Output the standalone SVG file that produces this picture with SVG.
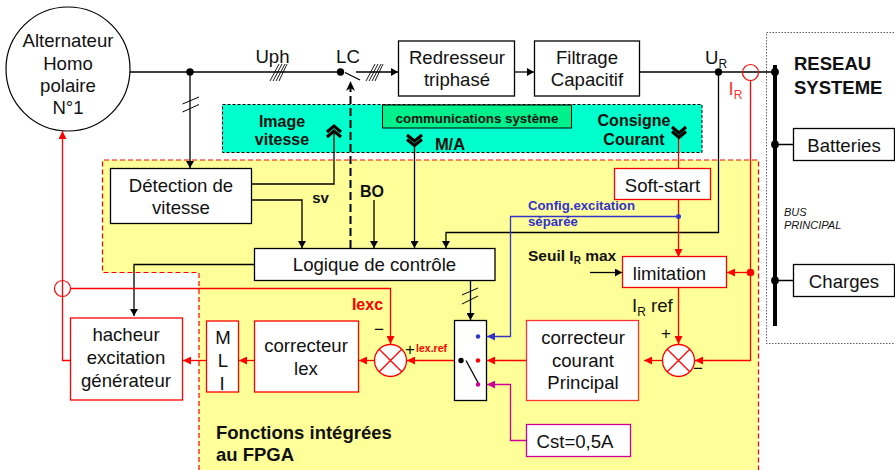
<svg xmlns="http://www.w3.org/2000/svg" width="895" height="470" viewBox="0 0 895 470">
<style>
text{font-family:"Liberation Sans",Arial,sans-serif;fill:#111;text-anchor:middle}
.t{font-size:18.6px}
.b{font-weight:bold}
.s{text-anchor:start}
.n{fill:#fff;stroke:#000;stroke-width:1.3}
.r{fill:#fff;stroke:#f00;stroke-width:1.3}
.c{fill:none;stroke:#000;stroke-width:1.3}
.th{fill:none;stroke:#000;stroke-width:0.9}
.cr{fill:none;stroke:#f00;stroke-width:1.3}
.cb{fill:none;stroke:#3333cc;stroke-width:1.3}
.cm{fill:none;stroke:#cc0099;stroke-width:1.3}
</style>
<defs>
<marker id="a" markerWidth="8" markerHeight="8" refX="7" refY="4" orient="auto" markerUnits="userSpaceOnUse"><path d="M0 0L7 4L0 8z" fill="#000"/></marker>
<marker id="ar" markerWidth="9" markerHeight="8" refX="8" refY="4" orient="auto" markerUnits="userSpaceOnUse"><path d="M0 0L8 4L0 8z" fill="#f00"/></marker>
<marker id="ab" markerWidth="9" markerHeight="8" refX="8" refY="4" orient="auto" markerUnits="userSpaceOnUse"><path d="M0 0L8 4L0 8z" fill="#3333cc"/></marker>
<marker id="am" markerWidth="9" markerHeight="8" refX="8" refY="4" orient="auto" markerUnits="userSpaceOnUse"><path d="M0 0L8 4L0 8z" fill="#cc0099"/></marker>
</defs>

<g id="zones">
<path d="M102.500 160H758.500V470H199V272.500H102.500Z" fill="#ffff99"/>
<path d="M199 470V272.500H102.500V160H758.500V470" fill="none" stroke="#f00" stroke-width="1.2" stroke-dasharray="5 3"/>
<rect x="222.500" y="104.500" width="479.500" height="48" fill="#00ffcc" stroke="#000" stroke-width="1" stroke-dasharray="3 2"/>
<rect x="766.500" y="32.500" width="130" height="311" fill="#fff" stroke="#333" stroke-width="0.8" stroke-dasharray="1.500 1.500"/>
</g>

<g id="connectors">
<path class="c" d="M130 72H338"/>
<path class="c" d="M345 72.500L360 80"/>
<path class="c" d="M356 72H398" marker-end="url(#a)"/>
<path class="c" d="M515 72H534" marker-end="url(#a)"/>
<path class="c" d="M639 72H775"/>
<path class="c" d="M190 72V168" marker-end="url(#a)"/>
<path class="c" d="M182.500 104L199 97M182.500 112L199 104.500" style="stroke-width:1"/>
<path class="th" d="M270 81L279 64M273 81L282 64M276 81L285 64M279 81L287 64"/>
<path class="th" d="M366 81L375 64M369 81L378 64M372 81L381 64M375 81L383 64"/>
<path d="M350.500 248V88" fill="none" stroke="#000" stroke-width="2" stroke-dasharray="8 4"/>
<path d="M346 91L350.500 81L355 91L350.500 88Z" fill="#000"/>
<path class="c" d="M251 184H334V132"/>
<path class="c" d="M251 200H302V248" marker-end="url(#a)"/>
<path class="c" d="M374 200V248" marker-end="url(#a)"/>
<path class="c" d="M414.500 145V248" marker-end="url(#a)"/>
<path class="c" d="M718.500 72V232.500H446V248" marker-end="url(#a)"/>
<path class="c" d="M254 264.500H134V316" marker-end="url(#a)"/>
<path class="c" d="M470.500 280V320" marker-end="url(#a)"/>
<path class="c" d="M462 295L478 288M462 304L478 296" style="stroke-width:1"/>
<path class="c" d="M590 272.500H622" marker-end="url(#a)"/>
<path class="cr" d="M678.500 137V168"/>
<path class="cr" d="M678.500 199V257" marker-end="url(#ar)"/>
<path class="cr" d="M678.500 287V344" marker-end="url(#ar)"/>
<path class="cr" d="M750.500 80V360.500H695" marker-end="url(#ar)"/>
<path class="cr" d="M750.500 272.500H727" marker-end="url(#ar)"/>
<path class="cr" d="M662 360.500H644" marker-end="url(#ar)"/>
<path class="cr" d="M526.500 360.500H487" marker-end="url(#ar)"/>
<path class="cr" d="M454 360.500H407" marker-end="url(#ar)"/>
<path class="cr" d="M374 360.500H359" marker-end="url(#ar)"/>
<path class="cr" d="M254 360.500H239" marker-end="url(#ar)"/>
<path class="cr" d="M206 360.500H183" marker-end="url(#ar)"/>
<path class="cr" d="M70 360.500H62.500V131" marker-end="url(#ar)"/>
<path class="cr" d="M71 288.500H390.500V344" marker-end="url(#ar)"/>
<path class="cb" d="M678.500 216.500H510.500V336.500H487" marker-end="url(#ab)"/>
<path class="cm" d="M526.500 440.500H510.500V384.500H487" marker-end="url(#am)"/>
<path d="M775 65V326" fill="none" stroke="#000" stroke-width="4"/>
<path class="c" d="M775 144.500H793M775 280.500H793"/>
<path d="M327 132L334 126L341 132M327 137L334 131L341 137" fill="none" stroke="#000" stroke-width="3"/>
<path d="M407 135L414.500 141L422 135M407 139.500L414.500 145.500L422 139.500" fill="none" stroke="#000" stroke-width="3"/>
<path d="M672 127L679 133L686 127M672 131.500L679 137.500L686 131.500" fill="none" stroke="#000" stroke-width="3"/>
<circle cx="190" cy="72" r="3.700"/>
<circle cx="340.500" cy="72" r="3.700"/>
<circle cx="718.500" cy="72" r="3.700"/>
<circle cx="775" cy="72" r="3.900"/>
<circle cx="775" cy="144.500" r="3.900"/>
<circle cx="775" cy="280.500" r="3.900"/>
<circle cx="750.500" cy="272.500" r="3.800" fill="#f00"/>
<circle cx="678.500" cy="216.500" r="2.500" fill="#3333cc"/>
<circle cx="750.500" cy="72.500" r="8" fill="none" stroke="#f00" stroke-width="1.200"/>
<circle cx="62.500" cy="288.500" r="8" fill="none" stroke="#f00" stroke-width="1.200"/>
</g>

<g id="alternateur"><circle cx="68" cy="69" r="62" fill="#fff" stroke="#000" stroke-width="1.200"/>
<text class="t" x="68" y="47">Alternateur</text><text class="t" x="68" y="70">Homo</text><text class="t" x="68" y="92">polaire</text><text class="t" x="68" y="114">N°1</text></g>
<g id="redresseur"><rect class="n" x="398.500" y="41" width="116" height="55"/><text class="t" x="457" y="64">Redresseur</text><text class="t" x="457" y="86">triphasé</text></g>
<g id="filtrage"><rect class="n" x="534.500" y="41" width="105" height="55"/><text class="t" x="587" y="64">Filtrage</text><text class="t" x="587" y="86">Capacitif</text></g>
<g id="communications"><rect x="382.500" y="105" width="189" height="23" fill="#00f08c" stroke="#000" stroke-width="1"/><text x="477" y="123" font-size="13.300" class="b">communications système</text></g>
<g id="image-vitesse"><text class="b" x="282" y="127" font-size="16">Image</text><text class="b" x="282" y="145" font-size="16">vitesse</text></g>
<g id="consigne"><text class="b" x="634" y="126" font-size="16">Consigne</text><text class="b" x="634" y="145" font-size="16">Courant</text></g>
<g id="detection"><rect class="n" x="110.500" y="168.500" width="141" height="55"/><text class="t" x="181" y="192">Détection de</text><text class="t" x="181" y="214">vitesse</text></g>
<g id="softstart"><rect class="r" x="614.500" y="168.500" width="96" height="31"/><text class="t" x="662.500" y="192">Soft-start</text></g>
<g id="logique"><rect class="n" x="254.500" y="248.500" width="240.500" height="32"/><text class="t" x="374.500" y="271">Logique de contrôle</text></g>
<g id="limitation"><rect class="r" x="622.500" y="256.500" width="104" height="31"/><text class="t" x="669.500" y="280">limitation</text></g>
<g id="hacheur"><rect class="r" x="70.500" y="318" width="112" height="82"/><text class="t" x="126" y="341">hacheur</text><text class="t" x="126" y="364">excitation</text><text class="t" x="126" y="387">générateur</text></g>
<g id="mli"><rect class="r" x="206.500" y="321" width="32" height="71"/><text class="t" x="223" y="344">M</text><text class="t" x="223" y="367">L</text><text class="t" x="222" y="390">I</text></g>
<g id="correcteur-lex"><rect class="r" x="254.500" y="321" width="104" height="71"/><text class="t" x="306" y="352">correcteur</text><text class="t" x="306" y="375">lex</text></g>
<g id="sum-lex"><circle cx="390.500" cy="360.500" r="16" fill="#fff" stroke="#f00" stroke-width="1.300"/><path class="cr" d="M379 349L402 372M402 349L379 372"/></g>
<g id="selecteur"><rect class="n" x="454.500" y="320.500" width="32" height="80"/>
<path class="c" d="M466 360.500L479 384.500"/><circle cx="461" cy="360.500" r="2.700"/><circle cx="478" cy="336.500" r="2.200" fill="#3333cc"/><circle cx="478" cy="360.500" r="2.200" fill="#f00"/><circle cx="478" cy="384.500" r="2.200" fill="#cc0099"/></g>
<g id="correcteur-courant"><rect x="526.500" y="320.500" width="112" height="80" fill="#fff" stroke="#f33" stroke-width="1.300"/><text class="t" x="583" y="344">correcteur</text><text class="t" x="583" y="367">courant</text><text class="t" x="583" y="389">Principal</text></g>
<g id="sum-courant"><circle cx="678.500" cy="360.500" r="16" fill="#fff" stroke="#f00" stroke-width="1.300"/><path class="cr" d="M667 349L690 372M690 349L667 372"/></g>
<g id="cst"><rect x="526.500" y="424.500" width="104" height="32" fill="#fff" stroke="#cc0099" stroke-width="1.300"/><text class="t" x="575" y="448">Cst=0,5A</text></g>
<g id="batteries"><rect class="n" x="793.500" y="128.500" width="101" height="32"/><text class="t" x="844" y="152">Batteries</text></g>
<g id="charges"><rect class="n" x="793.500" y="264.500" width="101" height="32"/><text class="t" x="844" y="288">Charges</text></g>

<g id="labels">
<text class="t" x="272.500" y="63">Uph</text>
<text class="t" x="348" y="63">LC</text>
<text class="t" x="716" y="64">U<tspan font-size="12" dy="4">R</tspan></text>
<text x="735.500" y="95" font-size="18.600" style="fill:#f33">I<tspan font-size="12" dy="4">R</tspan></text>
<text class="b s" x="794" y="70" font-size="18.500">RESEAU</text>
<text class="b s" x="794" y="94" font-size="18.500">SYSTEME</text>
<text class="s" x="784" y="216" font-size="11" font-style="italic">BUS</text>
<text class="s" x="784" y="229" font-size="11" font-style="italic">PRINCIPAL</text>
<text class="b" x="320.500" y="203" font-size="15">sv</text>
<text class="b" x="372" y="197" font-size="16">BO</text>
<text class="b" x="450" y="150" font-size="16.500">M/A</text>
<text class="b s" x="528" y="210" font-size="13.200" style="fill:#3333cc">Config.excitation</text>
<text class="b s" x="528" y="226" font-size="13.200" style="fill:#3333cc">séparée</text>
<text class="b s" x="528" y="261" font-size="15.500">Seuil I<tspan font-size="10" dy="3">R</tspan><tspan dy="-3"> max</tspan></text>
<text class="s" x="632" y="312" font-size="18.600">I<tspan font-size="12" dy="4">R</tspan><tspan dy="-4"> ref</tspan></text>
<text x="666" y="339" font-size="17">+</text>
<text x="698" y="374" font-size="17">−</text>
<text x="379" y="335" font-size="17">−</text>
<text x="410" y="355" font-size="17">+</text>
<text class="b" x="431.500" y="352" font-size="10.500" style="fill:#f00">lex.ref</text>
<text class="b" x="367.500" y="310" font-size="16" style="fill:#f00">Iexc</text>
<text class="b s" x="216" y="439" font-size="18.500">Fonctions intégrées</text>
<text class="b s" x="216" y="461" font-size="18.500">au FPGA</text>
</g>
</svg>
